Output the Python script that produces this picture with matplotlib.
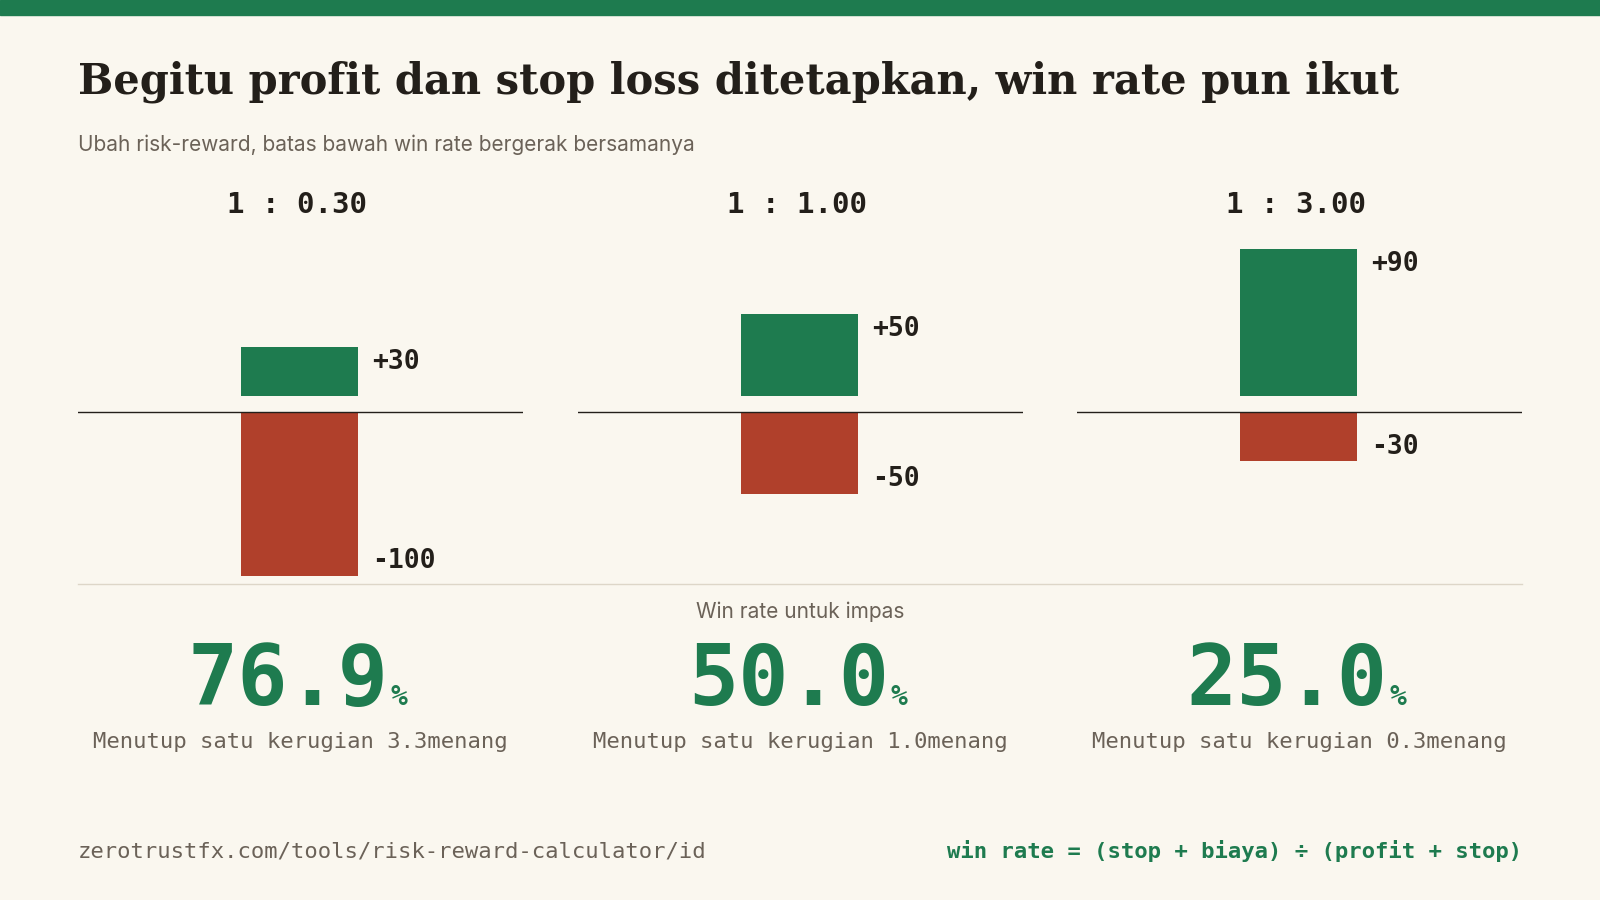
import matplotlib.pyplot as plt
from matplotlib.patches import Rectangle

ratios = ["1 : 0.30", "1 : 1.00", "1 : 3.00"]
profits = [30, 50, 90]
stops = [100, 50, 30]
win_rates = ["76.9", "50.0", "25.0"]
wins_needed = ["3.3", "1.0", "0.3"]

BG = "#FAF7EF"
GREEN = "#1E7B4F"
RED = "#B0402B"
DARK = "#231F1A"
GREY = "#6B6258"

W, H = 1568, 882
fig = plt.figure(figsize=(16, 9), dpi=100, facecolor=BG)

def fx(x): return x / W
def fy(y): return 1 - y / H

fig.patches.append(Rectangle((0, fy(15)), 1, 15 / H, transform=fig.transFigure, color=GREEN))
fig.text(fx(76), fy(80), "Begitu profit dan stop loss ditetapkan, win rate pun ikut",
         fontsize=30, fontweight="bold", family="DejaVu Serif", color=DARK, va="center")
fig.text(fx(76), fy(142), "Ubah risk-reward, batas bawah win rate bergerak bersamanya",
         fontsize=15, family="Inter", color=GREY, va="center")

mono = "DejaVu Sans Mono"
panel_x = [76, 566, 1055]
pw = 437
top, bot = 230, 570
ppu = 1.6  # pixels per unit
for i in range(3):
    x0 = panel_x[i]
    ax = fig.add_axes([fx(x0), fy(bot), pw / W, (bot - top) / H])
    ax.set_facecolor("none")
    ax.set_xlim(0, pw)
    ax.set_ylim(-(bot - 404) / ppu, (404 - top) / ppu)
    ax.axis("off")
    ax.axhline(0, color=DARK, lw=1)
    ax.bar(217.5, profits[i], bottom=10, width=115, color=GREEN)
    ax.bar(217.5, -stops[i], width=115, color=RED)
    ax.text(289, 10 + profits[i] - 9, f"+{profits[i]}", fontsize=19, fontweight="bold",
            family=mono, color=DARK, va="center")
    ax.text(289, -stops[i] + 9, f"-{stops[i]}", fontsize=19, fontweight="bold",
            family=mono, color=DARK, va="center")
    cx = x0 + pw / 2
    fig.text(fx(cx - 72), fy(201), ratios[i], fontsize=21, fontweight="bold",
             family=mono, color=DARK, va="center")
    fig.text(fx(cx - 12), fy(668), win_rates[i], fontsize=60, fontweight="bold",
             family=mono, color=GREEN, va="center", ha="center")
    fig.text(fx(cx + 88), fy(683), "%", fontsize=20, fontweight="bold",
             family=mono, color=GREEN, va="center")
    fig.text(fx(cx), fy(727), f"Menutup satu kerugian {wins_needed[i]}menang",
             fontsize=16, family=mono, color=GREY, va="center", ha="center")

fig.lines.append(plt.Line2D([fx(76), fx(1492)], [fy(572), fy(572)],
                            transform=fig.transFigure, color="#DDD6C8", lw=1))
fig.text(0.5, fy(600), "Win rate untuk impas", fontsize=15, family="Inter",
         color=GREY, va="center", ha="center")
fig.text(fx(76), fy(834), "zerotrustfx.com/tools/risk-reward-calculator/id",
         fontsize=16, family=mono, color=GREY, va="center")
fig.text(fx(1492), fy(834), "win rate = (stop + biaya) ÷ (profit + stop)",
         fontsize=16, fontweight="bold", family=mono, color=GREEN, va="center", ha="right")

fig.savefig("out.png", dpi=100, facecolor=BG)
